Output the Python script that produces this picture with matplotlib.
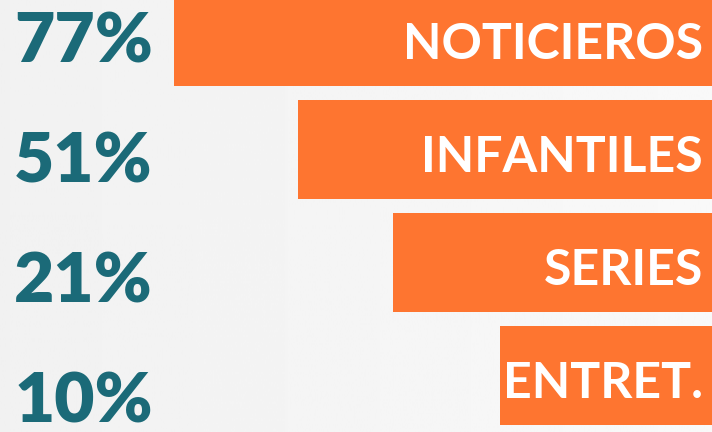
import numpy as np
import matplotlib
matplotlib.use("Agg")
import matplotlib.pyplot as plt

# data
categories = ["NOTICIEROS", "INFANTILES", "SERIES", "ENTRET."]
percent = [77, 51, 21, 10]
# bar length as drawn, in % of the slide width (bars grow from the right edge)
bar_len = [75.6, 58.1, 44.8, 29.8]

orange = "#FE7530"
teal = "#1B6A78"

fig = plt.figure(figsize=(7.12, 4.32), dpi=100)

# light grey gradient background
bg = fig.add_axes([0, 0, 1, 1])
grad = np.linspace(0.945, 0.975, 256).reshape(1, -1)
bg.imshow(grad, cmap="gray", vmin=0, vmax=1, aspect="auto", extent=[0, 1, 0, 1])
bg.set_axis_off()

# bars, anchored at the right edge
ax = fig.add_axes([0, 0, 1, 1])
ax.patch.set_alpha(0)
y = np.arange(len(categories))
ax.barh(y, bar_len, left=0, height=0.876, color=orange)
ax.set_xlim(100, 0)
ax.set_ylim(3.50, -0.323)
for i, lab in enumerate(categories):
    ax.text(1.3, y[i] + 0.20, lab, ha="right", va="baseline", color="white",
            fontsize=36, fontweight="bold", family="Lato")
ax.set_axis_off()

# percentage column has its own spacing on the slide
ax2 = fig.add_axes([0, 0, 1, 1])
ax2.patch.set_alpha(0)
ax2.set_xlim(0, 1)
ax2.set_ylim(3.083, -0.517)
for i, p in enumerate(percent):
    ax2.text(0.02, i, f"{p}%", ha="left", va="baseline", color=teal,
             fontsize=50, fontweight="heavy", family="Lato")
ax2.set_axis_off()

fig.savefig("out.png", dpi=100)
